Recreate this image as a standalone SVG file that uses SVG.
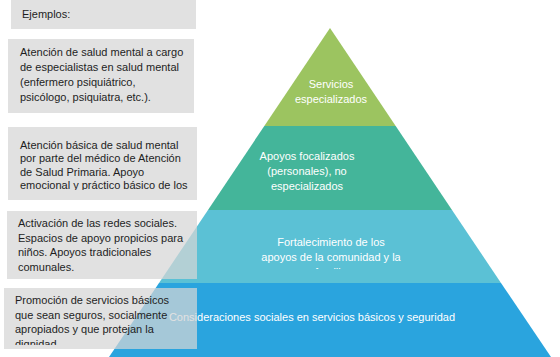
<svg xmlns="http://www.w3.org/2000/svg" width="560" height="357" viewBox="0 0 560 357">
<style>
.box{fill:#d6d6d6;fill-opacity:0.72}
.bt{font-family:"Liberation Sans",Arial,sans-serif;font-size:11px;fill:#1e1e1e}
.pt{font-family:"Liberation Sans",Arial,sans-serif;font-size:11px;fill:#ffffff;text-anchor:middle}
</style>
<defs>
<clipPath id="c3"><rect x="0" y="127" width="200" height="63"/></clipPath>
<clipPath id="c5"><rect x="0" y="288" width="200" height="57"/></clipPath>
<clipPath id="cfam"><rect x="150" y="210" width="360" height="59"/></clipPath>
</defs>
<rect width="560" height="357" fill="#ffffff"/>
<g id="pyramid">
<g id="level1"><polygon points="330,28 395.7,126 264.3,126" fill="#9cc460"/><text class="pt" x="331" y="88">Servicios</text><text class="pt" x="331" y="103">especializados</text></g>
<g id="level2"><polygon points="264.3,126 395.7,126 452,210 208,210" fill="#44b59a"/><text class="pt" x="307" y="160">Apoyos focalizados</text><text class="pt" x="307" y="175">(personales), no</text><text class="pt" x="307" y="190">especializados</text></g>
<g id="level3"><polygon points="208,210 452,210 501,283 159,283" fill="#5bc1d5"/><g clip-path="url(#cfam)"><text class="pt" x="331" y="246">Fortalecimiento de los</text><text class="pt" x="331" y="261">apoyos de la comunidad y la</text><text class="pt" x="331" y="276">familia</text></g></g>
<g id="level4"><polygon points="159,283 501,283 551,357 109,357" fill="#2aa4de"/><text class="pt" x="312" y="321">Consideraciones sociales en servicios básicos y seguridad</text></g>
</g>
<g id="examples">
<g id="ex0"><rect class="box" x="11" y="0" width="185" height="29"/><text class="bt" x="22" y="18">Ejemplos:</text></g>
<g id="ex1"><rect class="box" x="8" y="39" width="186" height="74"/><text class="bt" x="20" y="56">Atención de salud mental a cargo</text><text class="bt" x="20" y="71">de especialistas en salud mental</text><text class="bt" x="20" y="86">(enfermero psiquiátrico,</text><text class="bt" x="20" y="101">psicólogo, psiquiatra, etc.).</text></g>
<g id="ex2"><rect class="box" x="8" y="127" width="189" height="73"/><g clip-path="url(#c3)"><text class="bt" x="20" y="149">Atención básica de salud mental</text><text class="bt" x="20" y="162">por parte del médico de Atención</text><text class="bt" x="20" y="176">de Salud Primaria. Apoyo</text><text class="bt" x="20" y="189">emocional y práctico básico de los</text></g></g>
<g id="ex3"><rect class="box" x="7" y="211" width="190" height="68"/><text class="bt" x="18" y="227">Activación de las redes sociales.</text><text class="bt" x="18" y="242">Espacios de apoyo propicios para</text><text class="bt" x="18" y="256">niños. Apoyos tradicionales</text><text class="bt" x="18" y="271">comunales.</text></g>
<g id="ex4"><rect class="box" x="4" y="288" width="193" height="61"/><g clip-path="url(#c5)"><text class="bt" x="15" y="304">Promoción de servicios básicos</text><text class="bt" x="15" y="319">que sean seguros, socialmente</text><text class="bt" x="15" y="333">apropiados y que protejan la</text><text class="bt" x="15" y="348">dignidad</text></g></g>
</g>
<g id="connectors"/>
</svg>
